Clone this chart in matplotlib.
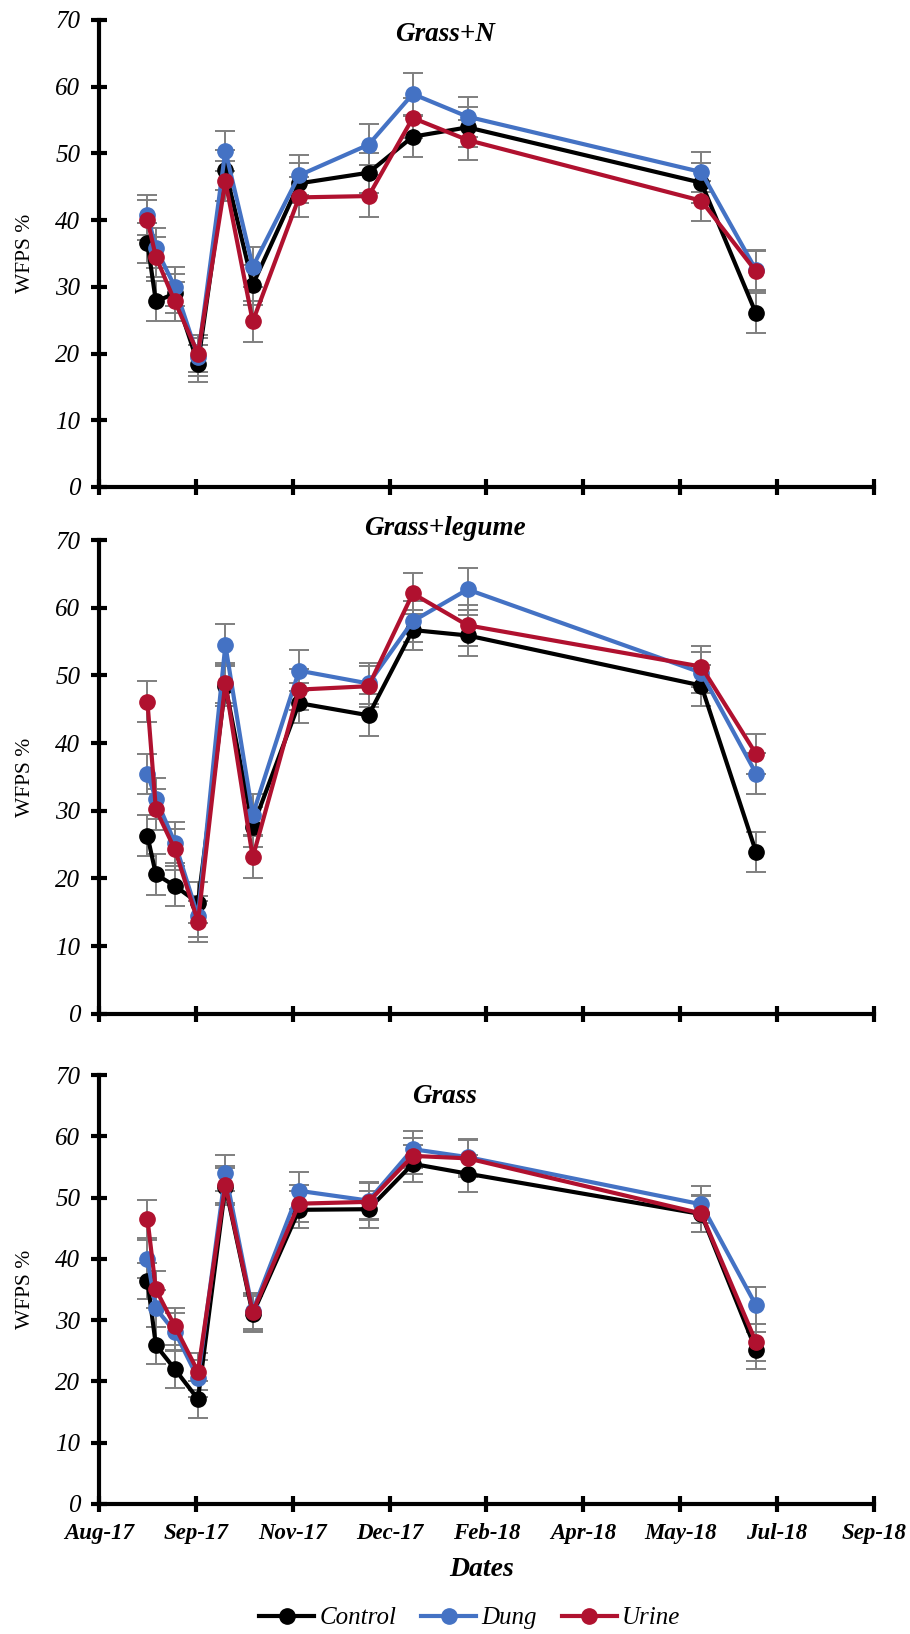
import numpy as np
import pandas as pd
import matplotlib
matplotlib.use('Agg')
import matplotlib.pyplot as plt
import matplotlib.dates as mdates
from matplotlib.lines import Line2D

plt.rcParams['font.family'] = ['Liberation Serif', 'DejaVu Serif']

# sampling dates
dates = ['2017-09-07', '2017-09-11', '2017-09-20', '2017-10-01', '2017-10-14', '2017-10-27',
         '2017-11-18', '2017-12-21', '2018-01-11', '2018-02-06', '2018-05-28', '2018-06-23']

tick_labels = ['Aug-17', 'Sep-17', 'Nov-17', 'Dec-17', 'Feb-18', 'Apr-18', 'May-18', 'Jul-18', 'Sep-18']
axis_start = '2017-08-15'
tick_step_days = 46

titles = ['Grass+N', 'Grass+legume', 'Grass']
series_names = ['Control', 'Dung', 'Urine']
colours = ['#000000', '#4472C4', '#B0112F']

# Grass+N
gn_control = [36.6, 27.8, 29.0, 18.5, 47.5, 30.3, 45.5, 47.1, 52.5, 53.9, 45.6, 26.0]
gn_dung = [40.8, 35.8, 30.0, 19.5, 50.4, 33.0, 46.7, 51.3, 58.9, 55.5, 47.2, 32.5]
gn_urine = [40.0, 34.5, 27.8, 20.0, 45.8, 24.8, 43.4, 43.6, 55.3, 52.0, 42.9, 32.3]
gn_control_err = [3.0, 3.0, 2.9, 2.8, 3.0, 3.0, 3.0, 3.0, 3.1, 3.0, 3.0, 3.0]
gn_dung_err = [3.0, 3.0, 2.9, 2.8, 3.0, 3.0, 3.0, 3.1, 3.1, 3.0, 3.0, 3.0]
gn_urine_err = [3.0, 3.0, 2.9, 2.8, 3.0, 3.1, 3.0, 3.1, 3.0, 3.0, 3.0, 3.0]

# Grass+legume
gl_control = [26.3, 20.6, 18.9, 16.4, 48.5, 27.6, 45.9, 44.1, 56.7, 55.9, 48.5, 23.9]
gl_dung = [35.4, 31.8, 25.3, 14.4, 54.5, 29.4, 50.7, 48.8, 58.0, 62.7, 50.4, 35.5]
gl_urine = [46.1, 30.2, 24.3, 13.6, 48.9, 23.1, 47.9, 48.4, 62.1, 57.4, 51.3, 38.4]
gl_control_err = [3.0, 3.0, 3.0, 3.0, 3.0, 3.0, 3.0, 3.1, 3.0, 3.0, 3.0, 3.0]
gl_dung_err = [3.0, 3.0, 3.0, 3.0, 3.1, 3.0, 3.0, 3.0, 3.0, 3.1, 3.0, 3.0]
gl_urine_err = [3.0, 3.0, 3.0, 3.0, 3.0, 3.1, 3.0, 3.0, 3.0, 3.0, 3.0, 3.0]

# Grass
g_control = [36.4, 25.9, 22.0, 17.1, 51.8, 31.0, 48.0, 48.1, 55.5, 53.9, 47.3, 25.1]
g_dung = [40.0, 31.9, 28.1, 20.5, 54.0, 31.5, 51.1, 49.5, 57.9, 56.6, 48.9, 32.4]
g_urine = [46.5, 35.0, 29.0, 21.6, 52.1, 31.3, 49.0, 49.3, 56.8, 56.4, 47.4, 26.4]
g_control_err = [3.0, 3.0, 3.0, 3.0, 3.0, 3.0, 3.0, 3.0, 3.0, 3.0, 3.0, 3.0]
g_dung_err = [3.1, 3.0, 3.0, 3.0, 3.0, 3.0, 3.0, 3.0, 3.0, 3.0, 3.0, 3.0]
g_urine_err = [3.1, 3.0, 3.0, 3.0, 3.0, 3.0, 3.0, 3.0, 3.0, 3.0, 3.0, 3.0]

panels = [
    ([gn_control, gn_dung, gn_urine], [gn_control_err, gn_dung_err, gn_urine_err]),
    ([gl_control, gl_dung, gl_urine], [gl_control_err, gl_dung_err, gl_urine_err]),
    ([g_control, g_dung, g_urine], [g_control_err, g_dung_err, g_urine_err]),
]

x = mdates.date2num(pd.to_datetime(dates))
x0 = mdates.date2num(pd.Timestamp(axis_start))
tick_pos = [x0 + i * tick_step_days for i in range(len(tick_labels))]

fig = plt.figure(figsize=(9.1, 16.34), dpi=100)

# [left, bottom, width, height] for each panel
rects = [[0.1088, 0.7020, 0.8516, 0.2858],
         [0.1088, 0.3796, 0.8516, 0.2899],
         [0.1088, 0.0796, 0.8516, 0.2625]]
title_pos = [(0.446, 0.968), (0.446, 1.025), (0.446, 0.949)]

for i, (vals, errs) in enumerate(panels):
    ax = fig.add_axes(rects[i])
    for j in range(3):
        ax.errorbar(x, vals[j], yerr=errs[j], color=colours[j], lw=3, marker='o',
                    ms=11, mec=colours[j], ecolor='#7F7F7F', elinewidth=1.4,
                    capsize=7, capthick=1.4)
    ax.set_xlim(tick_pos[0], tick_pos[-1])
    ax.set_ylim(0, 70)
    ax.set_yticks(range(0, 71, 10))
    ax.set_xticks(tick_pos)
    if i == 2:
        ax.set_xticklabels(tick_labels, fontsize=16.5, fontweight='bold', fontstyle='italic')
    else:
        ax.set_xticklabels([])
    for lab in ax.get_yticklabels():
        lab.set_fontsize(18)
        lab.set_fontstyle('italic')
    ax.spines['top'].set_visible(False)
    ax.spines['right'].set_visible(False)
    ax.spines['left'].set_linewidth(3)
    ax.spines['bottom'].set_linewidth(3)
    ax.tick_params(direction='inout', length=11, width=3, pad=8)
    ax.set_ylabel('WFPS %', fontsize=15.5)
    ax.yaxis.set_label_coords(-0.083, 0.5)
    ax.text(title_pos[i][0], title_pos[i][1], titles[i], transform=ax.transAxes,
            ha='center', va='center', fontsize=19.5, fontweight='bold', fontstyle='italic')

fig.text(482 / 910, 1 - 1569 / 1634, 'Dates', ha='center', va='center',
         fontsize=20, fontweight='bold', fontstyle='italic')

handles = [Line2D([], [], color=c, lw=3, marker='o', ms=11, mec=c) for c in colours]
leg = fig.legend(handles=handles, labels=series_names, loc='center',
                 bbox_to_anchor=(0.516, 1 - 1618 / 1634), ncol=3, frameon=False,
                 prop={'size': 18, 'style': 'italic'}, handlelength=2.2,
                 handletextpad=0.2, columnspacing=1.0)

fig.savefig('out.png', dpi=100)
